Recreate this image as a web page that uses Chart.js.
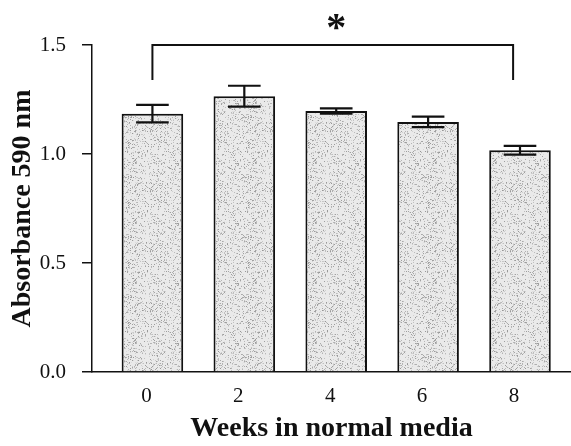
<!DOCTYPE html>
<html>
<head>
<meta charset="utf-8">
<script src="https://cdn.jsdelivr.net/npm/chart.js@4"></script>
<style>
  html, body { margin: 0; padding: 0; background: #fff; }
  #wrap { width: 571px; height: 446px; }
</style>
</head>
<body>
<div id="wrap"><canvas id="chart" width="571" height="446"></canvas></div>
<script>
// values
const weeks = [0, 2, 4, 6, 8];
const absorbance = [1.185, 1.265, 1.197, 1.147, 1.017];
const errors = [0.040, 0.048, 0.012, 0.024, 0.020];
const yTicks = [0, 0.5, 1.0, 1.5];

// significance bracket (week 0 vs week 8) and its star
const bracketX = [0, 7.85];
const bracketTop = 1.5;
const bracketLeg = 1.34;
const starX = 4;
const starY = 1.61;

const SERIF = "'Liberation Serif', 'Times New Roman', serif";

// grey stipple like the printed bars
function stipple() {
  const c = document.createElement('canvas');
  c.width = c.height = 60;
  const g = c.getContext('2d');
  g.fillStyle = '#eaeaea';
  g.fillRect(0, 0, 60, 60);
  let s = 11;
  const next = () => (s = (s * 16807) % 2147483647);
  for (let i = 0; i < 900; i++) {
    const px = next() % 60, py = next() % 60, shade = 150 + next() % 80;
    g.fillStyle = `rgb(${shade},${shade},${shade})`;
    g.fillRect(px, py, 1, 1);
  }
  return g.createPattern(c, 'repeat');
}

const annotations = {
  id: 'annotations',
  afterDatasetsDraw(chart) {
    const { ctx, scales: { x, y } } = chart;
    ctx.save();
    ctx.strokeStyle = '#111';
    ctx.fillStyle = '#111';

    // error bars
    ctx.lineWidth = 2.2;
    chart.getDatasetMeta(0).data.forEach((bar, i) => {
      const hi = y.getPixelForValue(absorbance[i] + errors[i]);
      const lo = y.getPixelForValue(absorbance[i] - errors[i]);
      const half = bar.width * 0.265;
      ctx.beginPath();
      ctx.moveTo(bar.x, hi); ctx.lineTo(bar.x, lo);
      ctx.moveTo(bar.x - half, hi); ctx.lineTo(bar.x + half, hi);
      ctx.moveTo(bar.x - half, lo); ctx.lineTo(bar.x + half, lo);
      ctx.stroke();
    });

    // bracket
    ctx.lineWidth = 2;
    const x0 = x.getPixelForValue(bracketX[0]);
    const x1 = x.getPixelForValue(bracketX[1]);
    const top = y.getPixelForValue(bracketTop);
    const leg = y.getPixelForValue(bracketLeg);
    ctx.beginPath();
    ctx.moveTo(x0, leg); ctx.lineTo(x0, top); ctx.lineTo(x1, top); ctx.lineTo(x1, leg);
    ctx.stroke();

    // star
    const size = 40;
    ctx.font = `bold ${size}px ${SERIF}`;
    ctx.textAlign = 'center';
    ctx.textBaseline = 'alphabetic';
    ctx.fillText('*', x.getPixelForValue(starX), y.getPixelForValue(starY) + size * 0.47);
    ctx.restore();
  }
};

new Chart(document.getElementById('chart'), {
  type: 'bar',
  data: {
    datasets: [{
      data: weeks.map((w, i) => ({ x: w, y: absorbance[i] })),
      backgroundColor: stipple(),
      borderColor: '#111',
      borderWidth: 2,
      barPercentage: 0.67,
      categoryPercentage: 1
    }]
  },
  options: {
    responsive: false,
    animation: false,
    layout: { padding: { top: 45, right: 0, bottom: 0, left: 0 } },
    plugins: { legend: { display: false }, tooltip: { enabled: false } },
    scales: {
      x: {
        type: 'linear',
        offset: false,
        min: -1.315,
        max: 9.11,
        afterBuildTicks: s => { s.ticks = weeks.map(v => ({ value: v })); },
        afterFit: s => { s.height = 74; },
        grid: { display: false, drawTicks: false },
        border: { display: true, color: '#111', width: 1.5 },
        ticks: {
          color: '#111',
          font: { family: SERIF, size: 21 },
          padding: 12,
          labelOffset: -6,
          maxRotation: 0,
          callback: v => String(v)
        },
        title: {
          display: true,
          text: 'Weeks in normal media',
          color: '#111',
          font: { family: SERIF, size: 28, weight: 'bold' },
          padding: { top: 2, bottom: 0 }
        }
      },
      y: {
        min: 0,
        max: 1.5,
        afterBuildTicks: s => { s.ticks = yTicks.map(v => ({ value: v })); },
        afterFit: s => { s.width = 92; },
        grid: { drawOnChartArea: false, drawTicks: true, tickLength: 10, color: '#111', lineWidth: 1.5 },
        border: { display: true, color: '#111', width: 1.5 },
        ticks: {
          color: '#111',
          font: { family: SERIF, size: 21 },
          padding: 16,
          callback: v => Number(v).toFixed(1)
        },
        title: {
          display: true,
          text: 'Absorbance 590 nm',
          color: '#111',
          font: { family: SERIF, size: 28, weight: 'bold' },
          padding: { top: 6, bottom: 0 }
        }
      }
    }
  },
  plugins: [annotations]
});
</script>
</body>
</html>
